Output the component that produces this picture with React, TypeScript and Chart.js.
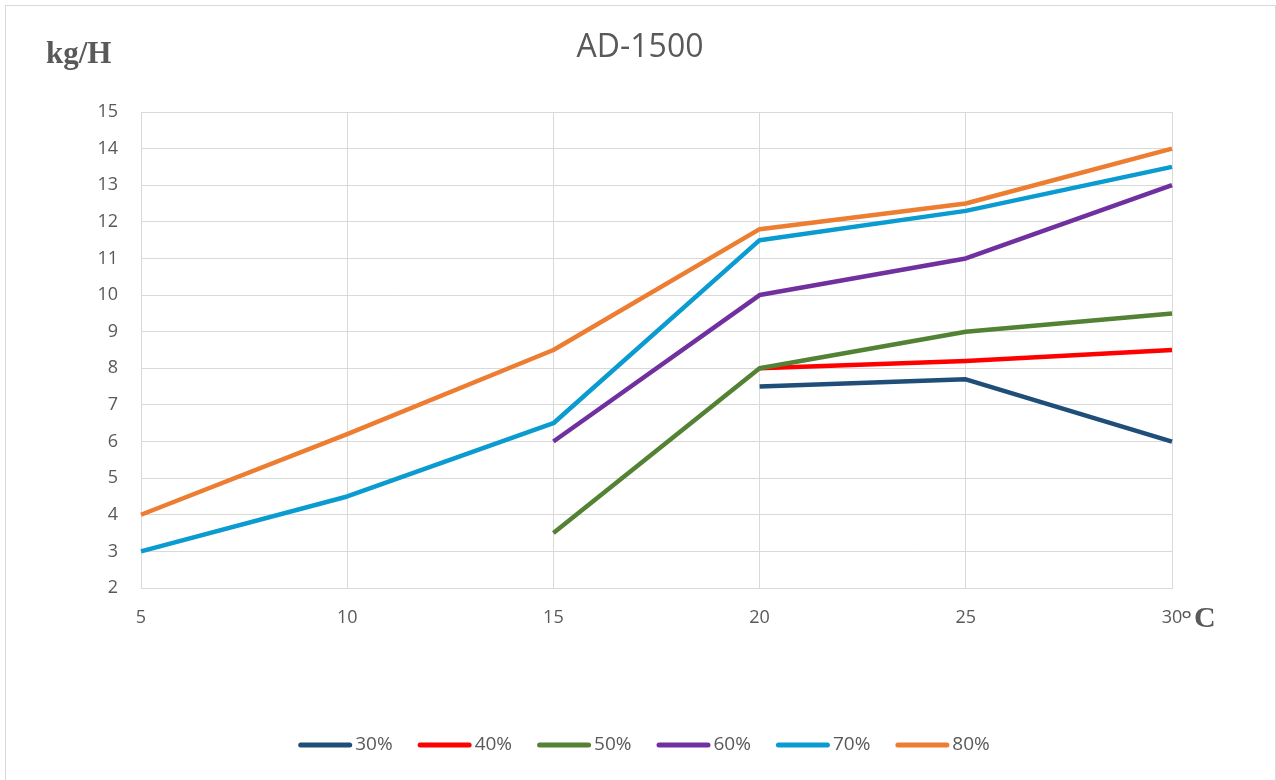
import React, { useEffect, useRef } from "react";
import { Chart, registerables } from "chart.js";

Chart.register(...registerables);

const categories = ["5", "10", "15", "20", "25", "30"];
const seriesLabels = ["30%", "40%", "50%", "60%", "70%", "80%"];
const seriesColors = ["#1F4E79", "#FF0000", "#548235", "#7030A0", "#0A9BD0", "#ED7D31"];
const s30 = [null, null, null, 7.5, 7.7, 6];
const s40 = [null, null, null, 8, 8.2, 8.5];
const s50 = [null, null, 3.5, 8, 9, 9.5];
const s60 = [null, null, 6, 10, 11, 13];
const s70 = [3, 4.5, 6.5, 11.5, 12.3, 13.5];
const s80 = [4, 6.2, 8.5, 11.8, 12.5, 14];
const seriesValues = [s30, s40, s50, s60, s70, s80];
const yMin = 2;
const yMax = 15;
const titleText = "AD-1500";
const yUnit = "kg/H";
const xUnit = "C";

const TEXT = "#595959";
const GRID = "#D9D9D9";

const decorPlugin = {
  id: "decor",
  beforeDraw(chart: any) {
    const ctx = chart.ctx;
    ctx.save();
    ctx.fillStyle = "#FFFFFF";
    ctx.fillRect(0, 0, chart.width, chart.height);
    ctx.strokeStyle = GRID;
    ctx.lineWidth = 1;
    ctx.strokeRect(5.5, 5.5, chart.width - 6, chart.height + 10);
    ctx.restore();
  },
  afterDraw(chart: any) {
    const ctx = chart.ctx;
    const xs = chart.scales.x;
    ctx.save();
    ctx.fillStyle = TEXT;
    // title
    ctx.font = '32px "Open Sans"';
    ctx.textAlign = "center";
    ctx.textBaseline = "middle";
    ctx.fillText(titleText, 640, 48);
    // y unit
    ctx.font = 'bold 31px "Liberation Serif"';
    ctx.textAlign = "left";
    ctx.textBaseline = "alphabetic";
    ctx.fillText(yUnit, 46, 63);
    // x unit after last tick
    const lastX = xs.getPixelForValue(categories.length - 1);
    ctx.font = '26px "Open Sans"';
    ctx.fillText("°", lastX + 9, 629);
    ctx.font = 'bold 30px "Liberation Serif"';
    ctx.fillText(xUnit, lastX + 22, 627);
    // legend
    const swW = 54;
    const gap = 3;
    const spacing = 25;
    ctx.font = '19px "Open Sans"';
    const items = chart.data.datasets.map((ds: any) => ({
      label: ds.label,
      color: ds.borderColor,
      w: ctx.measureText(ds.label).width,
    }));
    const total =
      items.reduce((a: number, it: any) => a + swW + gap + it.w, 0) + spacing * (items.length - 1);
    let x = 644 - total / 2;
    const y = 745;
    items.forEach((it: any) => {
      ctx.strokeStyle = it.color;
      ctx.lineWidth = 5;
      ctx.lineCap = "round";
      ctx.beginPath();
      ctx.moveTo(x + 2.5, y);
      ctx.lineTo(x + swW - 2.5, y);
      ctx.stroke();
      ctx.fillStyle = TEXT;
      ctx.textBaseline = "middle";
      ctx.textAlign = "left";
      ctx.fillText(it.label, x + swW + gap, y);
      x += swW + gap + it.w + spacing;
    });
    ctx.restore();
  },
};

export default function App() {
  const ref = useRef<HTMLCanvasElement | null>(null);
  useEffect(() => {
    if (!ref.current) return;
    const chart = new Chart(ref.current, {
      type: "line",
      data: {
        labels: categories,
        datasets: seriesLabels.map((label, i) => ({
          label,
          data: seriesValues[i],
          borderColor: seriesColors[i],
          backgroundColor: seriesColors[i],
          borderWidth: 4.5,
          pointRadius: 0,
          pointHoverRadius: 0,
          tension: 0,
          fill: false,
          spanGaps: false,
          borderJoinStyle: "round" as const,
          order: seriesLabels.length - i,
        })),
      },
      options: {
        animation: false,
        responsive: true,
        maintainAspectRatio: false,
        layout: { padding: { top: 112, right: 104, bottom: 147, left: 0 } },
        plugins: {
          legend: { display: false },
          title: { display: false },
          tooltip: { enabled: false },
        },
        scales: {
          x: {
            type: "category",
            offset: false,
            grid: { color: GRID, lineWidth: 1, drawTicks: false },
            border: { color: GRID },
            ticks: {
              color: TEXT,
              font: { family: "Open Sans", size: 18 },
              padding: 19,
              maxRotation: 0,
              autoSkip: false,
            },
            afterFit(scale: any) {
              scale.height = 45;
            },
          },
          y: {
            min: yMin,
            max: yMax,
            grid: { color: GRID, lineWidth: 1, drawTicks: false },
            border: { color: GRID },
            ticks: {
              stepSize: 1,
              color: TEXT,
              font: { family: "Open Sans", size: 18 },
              padding: 23,
            },
            afterFit(scale: any) {
              scale.width = 141;
            },
          },
        },
      },
      plugins: [decorPlugin],
    });
    return () => chart.destroy();
  }, []);
  return (
    <div style={{ position: "fixed", left: 0, top: 0, width: 1276, height: 780, background: "#fff" }}>
      <canvas ref={ref} />
    </div>
  );
}
